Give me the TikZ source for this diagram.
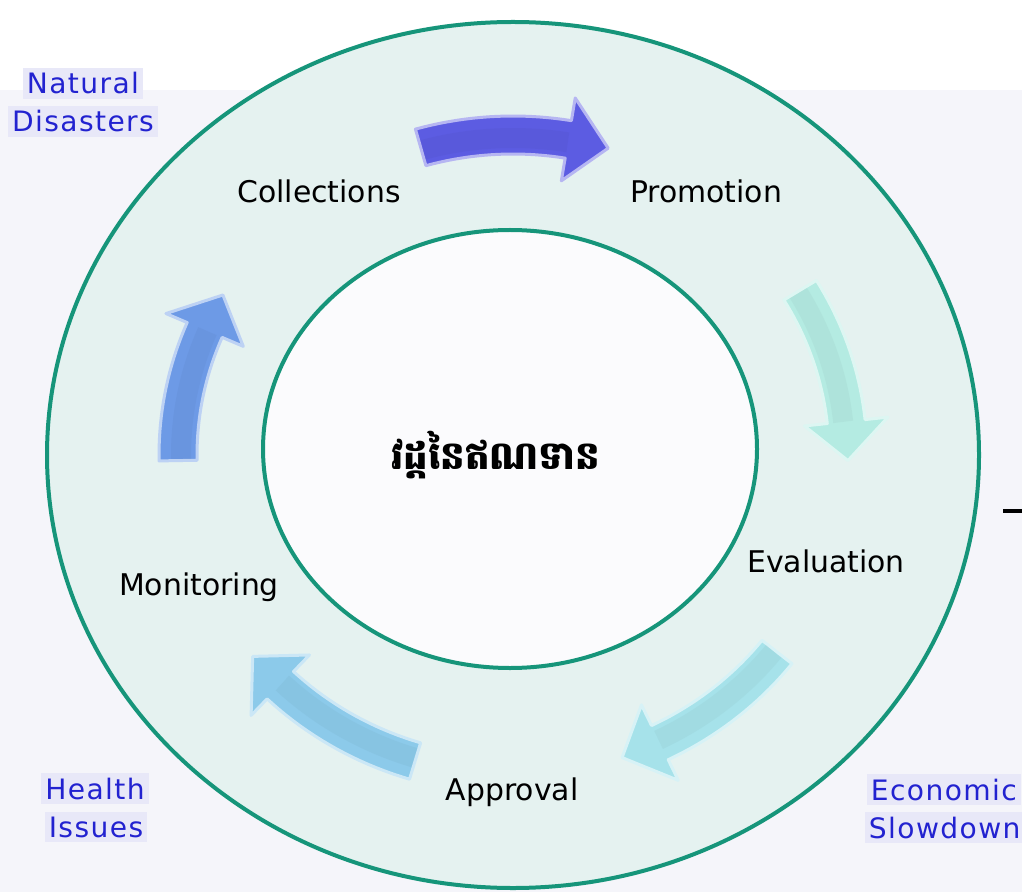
\documentclass[tikz,border=0pt]{standalone}
\usepackage{fontspec}
\setmainfont{DejaVu Sans}
\newfontfamily\khmerfont[Script=Khmer]{Battambang}
\newfontfamily\riskfont[LetterSpace=5]{DejaVu Sans}
\definecolor{ringgreen}{HTML}{16957A}
\definecolor{ringfill}{HTML}{E5F2F0}
\definecolor{backfill}{HTML}{F5F5FA}
\definecolor{corefill}{HTML}{FBFBFD}
\definecolor{riskblue}{HTML}{2222D0}
\definecolor{riskbox}{HTML}{E8E8F8}
\definecolor{collectblue}{HTML}{5C5CE2}
\definecolor{promotemint}{HTML}{B4EBE2}
\definecolor{evalcyan}{HTML}{A6E2EA}
\definecolor{approveblue}{HTML}{8CCAEA}
\definecolor{monitorblue}{HTML}{6D9AE6}
\tikzset{
  stage/.style={font=\fontsize{8.5}{10}\selectfont,text=black,anchor=base,inner sep=0pt},
  risk/.style={font=\riskfont\fontsize{8}{9}\selectfont,text=riskblue,fill=riskbox,anchor=base,inner sep=1.2pt},
  arrowbody/.style={line width=.3mm,line join=round},
}
% curved arrow between two stages: start angle, tip angle, colour
\newcommand\cyclearrow[3]{%
\pgfmathsetmacro\hb{#2+7}
\filldraw[arrowbody,fill=#3,draw=#3!45!white]
  plot[domain=#1:\hb,samples=20]({\cx+(\rx+\w)*cos(\x)},{\cy-(\ry+\w)*sin(\x)})
  --({\cx+(\rx+\h)*cos(\hb)},{\cy-(\ry+\h)*sin(\hb)})
  --({\cx+\rx*cos(#2)},{\cy-\ry*sin(#2)})
  --({\cx+(\rx-\h)*cos(\hb)},{\cy-(\ry-\h)*sin(\hb)})
  --plot[domain=\hb:#1,samples=20]({\cx+(\rx-\w)*cos(\x)},{\cy-(\ry-\w)*sin(\x)})
  --cycle;
\draw[#3!80!black,opacity=.15,line width=2mm]
  plot[domain=#1-.3:\hb,samples=20]({\cx+(\rx-3)*cos(\x)},{\cy-(\ry-3)*sin(\x)});}
\begin{document}
\begin{tikzpicture}[x=.1mm,y=-.1mm]
\clip(0,0)rectangle(1022,892);
\fill[white](0,0)rectangle(1022,892);
\fill[backfill](0,90)rectangle(1022,892);
% rings
\begin{scope}[line width=.4mm,draw=ringgreen]
\filldraw[fill=ringfill](513,455)ellipse[x radius=46.6mm,y radius=43.3mm];
\filldraw[fill=corefill](510,449)ellipse[x radius=24.7mm,y radius=21.9mm];
\end{scope}
% arrows
\def\cx{513}\def\cy{455}\def\rx{335}\def\ry{320}
\def\w{19}\def\h{42}
\cyclearrow{106}{73.5}{collectblue}
\cyclearrow{31}{-1}{promotemint}
\cyclearrow{-38}{-71}{evalcyan}
\cyclearrow{-107}{-141}{approveblue}
\cyclearrow{-179}{-210}{monitorblue}
% stages
\node[stage](collections)at(319,203){Collections};
\node[stage](promotion)at(706,203){Promotion};
\node[stage](evaluation)at(826,572){Evaluation};
\node[stage](approval)at(512,800){Approval};
\node[stage](monitoring)at(199,595){Monitoring};
\node[font=\khmerfont\bfseries\fontsize{11}{13}\selectfont](cycle)at(496,455){វដ្តនៃឥណទាន};
% risks
\node[risk](natural)at(83,94){Natural};
\node[risk](disasters)at(83,132){Disasters};
\node[risk](health)at(95,799){Health};
\node[risk](issues)at(96,837){Issues};
\node[risk,anchor=base west](economic)at(866,800){Economic};
\node[risk,anchor=base west](slowdown)at(864,838){Slowdown};
\draw[line width=.4mm](1003,511)--(1022,511);
\end{tikzpicture}
\end{document}
